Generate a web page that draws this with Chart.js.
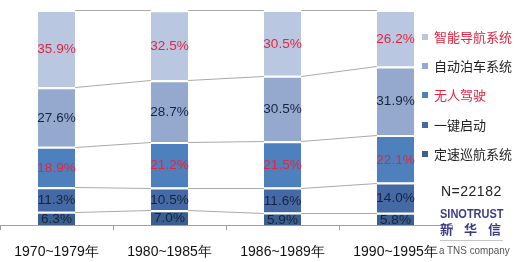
<!DOCTYPE html>
<html>
<head>
<meta charset="utf-8">
<script src="https://cdn.jsdelivr.net/npm/chart.js@4"></script>
<style>
    body { margin: 0; background: #fff; overflow: hidden; }
    #wrap { position: relative; width: 518px; height: 262px; overflow: hidden; }
    #legend { position: absolute; left: 422px; top: 28px; font-family: "Noto Sans CJK SC", sans-serif; font-size: 13px; }
    .item { position: absolute; left: 0; white-space: nowrap; height: 18px; line-height: 18px; }
    .item span.box { position: absolute; left: 0; top: 6px; width: 6px; height: 6px; }
    .item span.txt { position: absolute; left: 12px; top: 0; }
    .logo { position: absolute; font-family: "Liberation Sans", Arial, sans-serif; }
</style>
</head>
<body>
<div id="wrap">
    <canvas id="myChart" width="518" height="275"></canvas>
    <div id="legend"></div>
    <div class="logo" style="left:441px;top:183px;font-size:14px;color:#222;letter-spacing:0.5px;">N=22182</div>
    <div class="logo" style="left:440px;top:207px;font-size:12.5px;font-weight:bold;color:#3d3b86;transform:scaleX(0.88);transform-origin:left;">SINOTRUST</div>
    <div class="logo" style="left:440px;top:222px;font-size:13px;font-weight:bold;color:#3d3b86;font-family:'Noto Sans CJK SC';letter-spacing:11px;line-height:14px;">新华信</div>
    <div class="logo" style="left:440px;top:240px;width:63px;height:1px;background:#c8c8c8;"></div>
    <div class="logo" style="left:439px;top:244px;font-size:11px;color:#555;transform:scaleX(0.9);transform-origin:left;">a TNS company</div>
</div>
<script>
const categorias = ['1970~1979年', '1980~1985年', '1986~1989年', '1990~1995年']
const seriesNombres = ['定速巡航系统', '一键启动', '无人驾驶', '自动泊车系统', '智能导航系统']
const dingsu = [6.3, 7.0, 5.9, 5.8]
const yijian = [11.3, 10.5, 11.6, 14.0]
const wuren = [18.9, 21.2, 21.5, 22.1]
const zidong = [27.6, 28.7, 30.5, 31.9]
const zhineng = [35.9, 32.5, 30.5, 26.2]

const colores = ['#3b5f8e', '#4469a5', '#4f80be', '#95a9cf', '#b9c7e1']
const colorTexto = ['#16233f', '#16233f', '#e8233f', '#16233f', '#e8233f']
const valores = [dingsu, yijian, wuren, zidong, zhineng]

// leyenda en html, de arriba hacia abajo
const legendSelector = document.querySelector('#legend')
for (let i = seriesNombres.length - 1, fila = 0; i >= 0; i--, fila++) {
    const item = document.createElement('div')
    item.className = 'item'
    item.style.top = (fila * 29.2) + 'px'
    item.innerHTML = `<span class="box" style="background:${colores[i]}"></span><span class="txt" style="color:${colorTexto[i] === '#e8233f' ? '#e8233f' : '#222'}">${seriesNombres[i]}</span>`
    legendSelector.appendChild(item)
}

// lineas de serie entre barras (como en Excel)
const lineasSerie = {
    id: 'lineasSerie',
    beforeDatasetsDraw(chart) {
        const ctx = chart.ctx
        ctx.save()
        ctx.strokeStyle = '#a9a9a9'
        ctx.lineWidth = 1
        chart.data.datasets.forEach((ds, i) => {
            const meta = chart.getDatasetMeta(i)
            for (let j = 0; j < meta.data.length - 1; j++) {
                const a = meta.data[j]
                const b = meta.data[j + 1]
                ctx.beginPath()
                ctx.moveTo(a.x + a.width / 2, Math.round(a.y) + 0.5)
                ctx.lineTo(b.x - b.width / 2, Math.round(b.y) + 0.5)
                ctx.stroke()
            }
        })
        ctx.restore()
    }
}

// etiquetas de porcentaje
const etiquetas = {
    id: 'etiquetas',
    afterDatasetsDraw(chart) {
        const ctx = chart.ctx
        ctx.save()
        ctx.font = '13.5px "Liberation Sans", Arial, sans-serif'
        ctx.textAlign = 'center'
        ctx.textBaseline = 'middle'
        chart.data.datasets.forEach((ds, i) => {
            const meta = chart.getDatasetMeta(i)
            meta.data.forEach((el, j) => {
                ctx.fillStyle = colorTexto[i]
                ctx.fillText(ds.data[j].toFixed(1) + '%', el.x, (el.y + el.base) / 2 + 1)
            })
        })
        ctx.restore()
    }
}

const ctx = document.getElementById('myChart').getContext('2d')
const myChart = new Chart(ctx, {
    type: 'bar',
    data: {
        labels: categorias,
        datasets: seriesNombres.map((nombre, i) => ({
            label: nombre,
            data: valores[i],
            backgroundColor: colores[i],
            borderColor: '#ffffff',
            borderWidth: { top: 2, right: 0, bottom: 0, left: 0 },
            borderSkipped: false,
            categoryPercentage: 1,
            barPercentage: 0.33
        }))
    },
    options: {
        responsive: false,
        animation: false,
        layout: { padding: { left: 0, right: 66, top: 10, bottom: 0 } },
        plugins: { legend: { display: false }, tooltip: { enabled: false } },
        scales: {
            x: {
                stacked: true,
                grid: { display: true, drawOnChartArea: false, drawTicks: true, tickLength: 5, offset: true, color: '#a0a0a0' },
                border: { display: true, color: '#a0a0a0' },
                ticks: { color: '#111', font: { size: 14, family: '"Liberation Sans", Arial, sans-serif' }, padding: 14, maxRotation: 0 }
            },
            y: {
                stacked: true,
                display: false,
                min: 0,
                max: 100
            }
        }
    },
    plugins: [lineasSerie, etiquetas]
})
</script>
</body>
</html>
